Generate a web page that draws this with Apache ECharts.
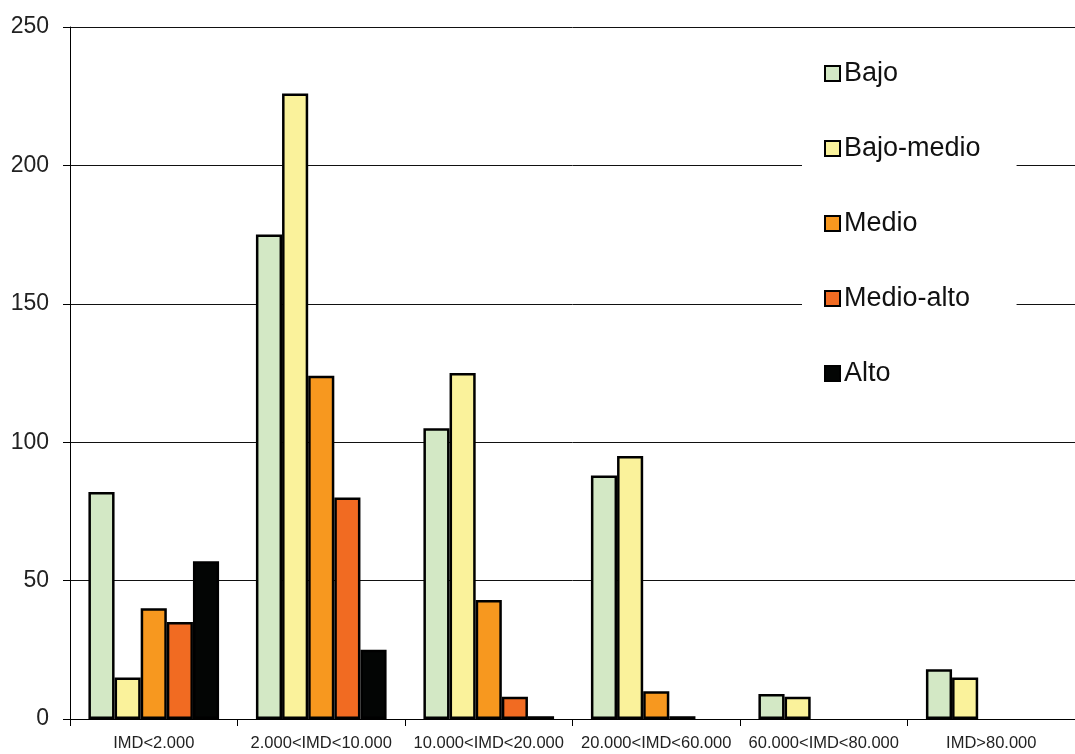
<!DOCTYPE html>
<html>
<head>
<meta charset="utf-8">
<script src="https://cdn.jsdelivr.net/npm/echarts@6/dist/echarts.min.js"></script>
<style>
html,body{margin:0;padding:0;background:#fff;}
#chart{width:1075px;height:754px;}
</style>
</head>
<body>
<div id="chart"></div>
<script>
var categories = ['IMD<2.000', '2.000<IMD<10.000', '10.000<IMD<20.000', '20.000<IMD<60.000', '60.000<IMD<80.000', 'IMD>80.000'];
var seriesNames = ['Bajo', 'Bajo-medio', 'Medio', 'Medio-alto', 'Alto'];
var bajo = [82, 175, 105, 88, 9, 18];
var bajoMedio = [15, 226, 125, 95, 8, 15];
var medio = [40, 124, 43, 10, null, null];
var medioAlto = [35, 80, 8, 1, null, null];
var alto = [57, 25, 1, null, null, null];
var yTicks = [0, 50, 100, 150, 200, 250];
var colors = ['#d3e8c5', '#faf29b', '#f7981f', '#f16b22', '#030504'];

var seriesData = [bajo, bajoMedio, medio, medioAlto, alto];

var chart = echarts.init(document.getElementById('chart'));
var series = seriesNames.map(function (name, i) {
  return {
    name: name,
    type: 'bar',
    data: seriesData[i],
    barGap: '0%',
    barCategoryGap: '22%',
    itemStyle: { color: colors[i], borderColor: '#000', borderWidth: 2.5 },
    emphasis: { disabled: true }
  };
});

chart.setOption({
  animation: false,
  backgroundColor: '#fff',
  grid: { left: 70, right: 0, top: 27, bottom: 35, containLabel: false },
  legend: {
    orient: 'vertical',
    left: 802,
    top: 40,
    padding: [20, 36, 20, 22],
    backgroundColor: '#fff',
    itemWidth: 15,
    itemHeight: 15,
    itemGap: 48,
    icon: 'rect',
    textStyle: { fontFamily: 'Liberation Sans, Arial, sans-serif', fontSize: 27, lineHeight: 26, color: '#111', padding: [0, 0, 0, -1] },
    data: seriesNames
  },
  xAxis: {
    type: 'category',
    data: categories,
    axisLine: { lineStyle: { color: '#000', width: 1 } },
    axisTick: { show: true, length: 7, lineStyle: { color: '#000' }, alignWithLabel: false },
    axisLabel: { fontFamily: 'Liberation Sans, Arial, sans-serif', fontSize: 16.5, color: '#222', margin: 16, interval: 0 },
    splitLine: { show: false }
  },
  yAxis: {
    type: 'value',
    min: yTicks[0],
    max: yTicks[yTicks.length - 1],
    interval: 50,
    axisLine: { show: true, lineStyle: { color: '#000', width: 1 } },
    axisTick: { show: true, length: 7, lineStyle: { color: '#000' } },
    axisLabel: { fontFamily: 'Liberation Sans, Arial, sans-serif', fontSize: 23, color: '#222', margin: 21 },
    splitLine: { show: true, lineStyle: { color: '#111', width: 1 } }
  },
  series: series
});
</script>
</body>
</html>
